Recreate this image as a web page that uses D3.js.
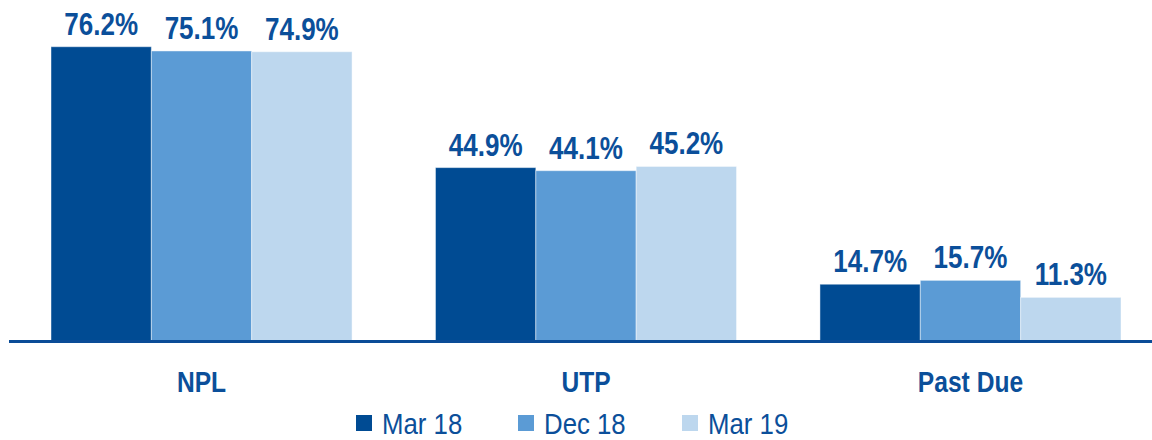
<!DOCTYPE html>
<html><head><meta charset="utf-8">
<script src="https://cdn.jsdelivr.net/npm/d3@7"></script>
<style>
html,body{margin:0;padding:0;background:#fff;}
svg{display:block;}
text{font-family:"Liberation Sans Narrow","Arial Narrow","Liberation Sans",Arial,sans-serif;}
</style></head>
<body>
<svg id="chart" width="1152" height="440"></svg>
<script>
const categories = ["NPL", "UTP", "Past Due"];
const seriesNames = ["Mar 18", "Dec 18", "Mar 19"];
const mar18 = [76.2, 44.9, 14.7];
const dec18 = [75.1, 44.1, 15.7];
const mar19 = [74.9, 45.2, 11.3];
const seriesValues = [mar18, dec18, mar19];
const colors = ["#004B93", "#5B9BD5", "#BDD7EE"];
const textColor = "#0B4F9A";

const svg = d3.select("#chart");
const x0 = d3.scaleBand().domain(categories).range([51, 1121]).paddingInner(0.217).paddingOuter(0);
const x1 = d3.scaleBand().domain(seriesNames).range([0, x0.bandwidth()]).padding(0);
const y = d3.scaleLinear().domain([0, 80]).range([341, 341 - 80 * 3.862]);

const data = [];
categories.forEach((c, i) => seriesNames.forEach((s, j) => data.push({c, s, j, v: seriesValues[j][i]})));

svg.append("g").selectAll("rect").data(data).enter().append("rect")
  .attr("x", d => x0(d.c) + x1(d.s))
  .attr("y", d => y(d.v))
  .attr("width", x1.bandwidth())
  .attr("height", d => y(0) - y(d.v))
  .attr("fill", d => colors[d.j])
  .attr("stroke", "rgba(255,255,255,0.45)")
  .attr("stroke-width", 1);

svg.append("g").selectAll("text").data(data).enter().append("text")
  .attr("transform", d => `translate(${x0(d.c) + x1(d.s) + x1.bandwidth() / 2},${y(d.v) - 12}) scale(0.84,1)`)
  .attr("text-anchor", "middle")
  .attr("font-size", 31)
  .attr("font-weight", "bold")
  .attr("fill", textColor)
  .text(d => d.v.toFixed(1) + "%");

// axis line
svg.append("line").attr("x1", 9).attr("x2", 1152).attr("y1", y(0) + 0.5).attr("y2", y(0) + 0.5)
  .attr("stroke", "#0A4C97").attr("stroke-width", 3);

// category labels
svg.append("g").selectAll("text").data(categories).enter().append("text")
  .attr("transform", d => `translate(${x0(d) + x0.bandwidth() / 2},392) scale(0.82,1)`)
  .attr("text-anchor", "middle")
  .attr("font-size", 30)
  .attr("font-weight", "bold")
  .attr("fill", textColor)
  .text(d => d);

// legend
const legendX = [356, 518, 682];
const lg = svg.append("g").selectAll("g").data(seriesNames).enter().append("g")
  .attr("transform", (d, i) => `translate(${legendX[i]},0)`);
lg.append("rect").attr("x", 0).attr("y", 415).attr("width", 16).attr("height", 16)
  .attr("fill", (d, i) => colors[i]);
lg.append("text").attr("transform", `translate(26,433.5) scale(0.86,1)`).attr("font-size", 30)
  .attr("fill", textColor).text(d => d);
</script>
</body></html>
